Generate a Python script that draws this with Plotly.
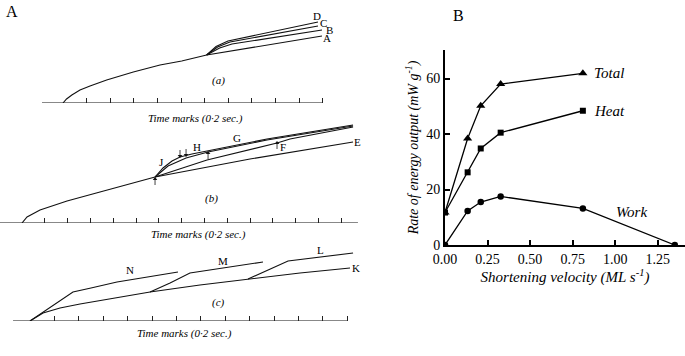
import plotly.graph_objects as go

W, H = 685, 356
FONT = "Liberation Serif"

# ---------------- Panel B data ----------------
velocity = [0.0, 0.133, 0.21, 0.327, 0.81]
total = [11.7, 38.4, 50.2, 58.0, 61.9]
heat = [11.7, 26.2, 34.8, 40.5, 48.4]
work_velocity = [0.0, 0.133, 0.21, 0.327, 0.81, 1.35]
work = [0.0, 12.3, 15.5, 17.5, 13.2, 0.0]
b_xticks = [0.0, 0.25, 0.5, 0.75, 1.0, 1.25]
b_xticklabels = ["0.00", "0.25", "0.50", "0.75", "1.00", "1.25"]
b_yticks = [0, 20, 40, 60]

# ---------------- Panel A data (time s, tension arbitrary units) -------------
# (a)
a_base_t = [-0.178, 2.2]
a_common_t = [0, 0.03, 0.075, 0.144, 0.229, 0.37, 0.596, 0.822, 1.006, 1.217]
a_common_T = [0, 4, 8, 13, 17, 23, 31, 38, 42, 48]
a_A_t = [1.217, 2.195]
a_A_T = [48, 67]
a_B_t = [1.217, 1.327, 1.432, 2.195]
a_B_T = [48, 55, 59, 73]
a_C_t = [1.217, 1.31, 1.415, 2.161]
a_C_T = [48, 56, 61, 77]
a_D_t = [1.217, 1.297, 1.398, 2.161]
a_D_T = [48, 56.5, 62, 81]
a_ticks = [0.2, 0.4, 0.6, 0.8, 1.0, 1.2, 1.4, 1.6, 1.8, 2.0, 2.2]
a_labels = ["D", "C", "B", "A"]
a_label_t = [2.15, 2.21, 2.26, 2.24]
a_label_T = [87, 80, 73, 65]

# (b)
b_base_t = [-0.193, 2.947]
b_common_t = [0, 0.044, 0.158, 0.395, 0.684, 0.974, 1.167]
b_common_T = [0, 6, 13, 22, 31, 40, 46]
b_E_t = [1.167, 2.0, 2.904]
b_E_T = [46, 64, 81]
b_G_t = [1.167, 1.237, 1.316, 1.386, 1.491, 1.623, 1.912, 2.149, 2.526, 2.904]
b_G_T = [46, 55, 62, 66, 69, 72, 79, 84, 91, 98]
b_H_t = [1.167, 1.281, 1.439, 1.632, 2.149, 2.904]
b_H_T = [46, 57, 65, 71, 83, 97]
b_F_t = [1.167, 1.623, 2.237, 2.351, 2.904]
b_F_T = [46, 63, 80, 84, 96]
b_ticks = [0.2, 0.4, 0.6, 0.8, 1.0, 1.2, 1.4, 1.6, 1.8, 2.0, 2.2, 2.4, 2.6, 2.8]
b_labels = ["J", "H", "G", "F", "E"]
b_label_t = [1.228, 1.535, 1.886, 2.289, 2.945]
b_label_T = [61, 76, 85, 76, 81]
b_arrow_t = [1.167, 1.386, 1.439, 1.632, 2.237]
b_arrow_head = [44, 67, 68, 70, 80]
b_arrow_tail = [38, 73, 74, 64, 74]

# (c)
c_base_t = [-0.139, 2.6]
c_K_t = [0, 0.049, 0.107, 0.246, 0.41, 0.697, 0.984, 1.393, 1.787, 2.213, 2.623]
c_K_T = [0, 4, 8, 13, 17, 23, 29, 36, 42, 48, 53]
c_N_t = [0, 0.352, 0.5, 0.713, 1.213]
c_N_T = [0, 29, 33, 39, 49]
c_M_t = [0.984, 1.148, 1.311, 1.91]
c_M_T = [29, 38, 48, 59]
c_L_t = [1.787, 1.951, 2.115, 2.648]
c_L_T = [42, 51, 60, 68]
c_ticks = [0.2, 0.4, 0.6, 0.8, 1.0, 1.2, 1.4, 1.6, 1.8, 2.0, 2.2, 2.4, 2.6]
c_labels = ["N", "M", "L", "K"]
c_label_t = [0.82, 1.582, 2.385, 2.67]
c_label_T = [51, 60, 71, 53]

time_label = "Time marks (0·2 sec.)"


def px_x(p):
    return p / W


def px_y(p):
    return 1 - p / H


fig = go.Figure()


def add(t, T, xa, ya, width=1.1):
    fig.add_trace(go.Scatter(x=t, y=T, mode="lines", xaxis=xa, yaxis=ya,
                             line=dict(color="#111", width=width),
                             hoverinfo="skip", showlegend=False))


# panel (a)
add(a_base_t, [0, 0], "x2", "y2", 1.0)
add(a_common_t, a_common_T, "x2", "y2")
for t, T in [(a_A_t, a_A_T), (a_B_t, a_B_T), (a_C_t, a_C_T), (a_D_t, a_D_T)]:
    add(t, T, "x2", "y2")
# panel (b)
add(b_base_t, [0, 0], "x3", "y3", 1.0)
add(b_common_t, b_common_T, "x3", "y3")
for t, T in [(b_E_t, b_E_T), (b_G_t, b_G_T), (b_H_t, b_H_T), (b_F_t, b_F_T)]:
    add(t, T, "x3", "y3")
# small arrows in (b)
for t, h, tl in zip(b_arrow_t, b_arrow_head, b_arrow_tail):
    add([t, t], [tl, h], "x3", "y3", 0.8)
    fig.add_trace(go.Scatter(x=[t], y=[h], mode="markers", xaxis="x3", yaxis="y3",
                             marker=dict(symbol=("triangle-up" if h > tl else "triangle-down"),
                                         size=4, color="#111"),
                             hoverinfo="skip", showlegend=False))
# panel (c)
add(c_base_t, [0, 0], "x4", "y4", 1.0)
for t, T in [(c_K_t, c_K_T), (c_N_t, c_N_T), (c_M_t, c_M_T), (c_L_t, c_L_T)]:
    add(t, T, "x4", "y4")

# panel B
fig.add_trace(go.Scatter(x=velocity, y=total, mode="lines+markers",
                         line=dict(color="black", width=1.3),
                         marker=dict(symbol="triangle-up", size=8, color="black"),
                         showlegend=False, name="Total"))
fig.add_trace(go.Scatter(x=velocity, y=heat, mode="lines+markers",
                         line=dict(color="black", width=1.3),
                         marker=dict(symbol="square", size=6, color="black"),
                         showlegend=False, name="Heat"))
fig.add_trace(go.Scatter(x=work_velocity, y=work, mode="lines+markers",
                         line=dict(color="black", width=1.3),
                         marker=dict(symbol="circle", size=6.5, color="black"),
                         showlegend=False, name="Work"))

common_a = dict(showgrid=False, zeroline=False, showline=False, ticks="inside",
                ticklen=5, tickwidth=1, tickcolor="#222", showticklabels=False,
                automargin=False)
noy = dict(showgrid=False, zeroline=False, showline=False, showticklabels=False,
           ticks="", automargin=False)
fig.update_layout(
    xaxis2=dict(domain=[0, px_x(365)], range=[(0 - 63) / 118, (365 - 63) / 118],
                anchor="y2", tickvals=a_ticks, **common_a),
    yaxis2=dict(domain=[px_y(103), px_y(5)], range=[0, 98], anchor="x2", **noy),
    xaxis3=dict(domain=[0, px_x(365)], range=[(0 - 22) / 114, (365 - 22) / 114],
                anchor="y3", tickvals=b_ticks, **common_a),
    yaxis3=dict(domain=[px_y(223), px_y(110)], range=[0, 113], anchor="x3", **noy),
    xaxis4=dict(domain=[0, px_x(365)], range=[(0 - 30) / 122, (365 - 30) / 122],
                anchor="y4", tickvals=c_ticks, **common_a),
    yaxis4=dict(domain=[px_y(321), px_y(240)], range=[0, 81], anchor="x4", **noy),
)

fig.update_layout(
    xaxis=dict(domain=[px_x(445), 1.0], range=[0, 1.41], anchor="y", automargin=False,
               showgrid=False, zeroline=False, showline=True, linecolor="black",
               linewidth=2, ticks="inside", ticklen=5, tickwidth=2, tickcolor="black",
               tickvals=b_xticks, ticktext=b_xticklabels,
               tickfont=dict(family=FONT, size=14, color="black"),
               title=dict(text="<i>Shortening velocity (ML s<sup>-1</sup>)</i>",
                          font=dict(family=FONT, size=15, color="black"), standoff=2)),
    yaxis=dict(domain=[px_y(245), px_y(50)], range=[0, 70.3], anchor="x", automargin=False,
               showgrid=False, zeroline=False, showline=True, linecolor="black",
               linewidth=2, ticks="inside", ticklen=5, tickwidth=2, tickcolor="black",
               tickvals=b_yticks,
               tickfont=dict(family=FONT, size=14, color="black"),
               title=dict(text="<i>Rate of energy output (mW g<sup>-1</sup>)</i>",
                          font=dict(family=FONT, size=14, color="black"), standoff=4)),
)

ann = []


def text_ann(x, y, s, size, xref="paper", yref="paper", xanchor="center", italic=False):
    ann.append(dict(x=x, y=y, xref=xref, yref=yref, text=(f"<i>{s}</i>" if italic else s),
                    showarrow=False, xanchor=xanchor, yanchor="middle",
                    font=dict(family=FONT, size=size, color="black")))


text_ann(px_x(12), px_y(11), "A", 16)
text_ann(px_x(458), px_y(15), "B", 16)
for s, t, T in zip(a_labels, a_label_t, a_label_T):
    text_ann(t, T, s, 11, "x2", "y2")
for s, t, T in zip(b_labels, b_label_t, b_label_T):
    text_ann(t, T, s, 11, "x3", "y3")
for s, t, T in zip(c_labels, c_label_t, c_label_T):
    text_ann(t, T, s, 11, "x4", "y4")
text_ann(px_x(218), px_y(80), "(a)", 11, italic=True)
text_ann(px_x(211), px_y(198), "(b)", 11, italic=True)
text_ann(px_x(218), px_y(302), "(c)", 11, italic=True)
text_ann(px_x(196), px_y(118), time_label, 11, italic=True)
text_ann(px_x(198), px_y(234), time_label, 11, italic=True)
text_ann(px_x(184), px_y(333), time_label, 11, italic=True)
text_ann(0.865, 61.9, "Total", 15, "x", "y", "left", True)
text_ann(0.865, 48.4, "Heat", 15, "x", "y", "left", True)
text_ann(0.99, 11.9, "Work", 15, "x", "y", "left", True)

fig.update_layout(template="none", annotations=ann, width=W, height=H,
                  margin=dict(l=0, r=0, t=0, b=0, pad=0), autosize=False,
                  paper_bgcolor="white", plot_bgcolor="rgba(0,0,0,0)",
                  font=dict(family=FONT, color="black"))

fig.write_html("out.html", config={"displayModeBar": False},
               post_script="document.body.style.margin='0';document.body.style.overflow='hidden';")
